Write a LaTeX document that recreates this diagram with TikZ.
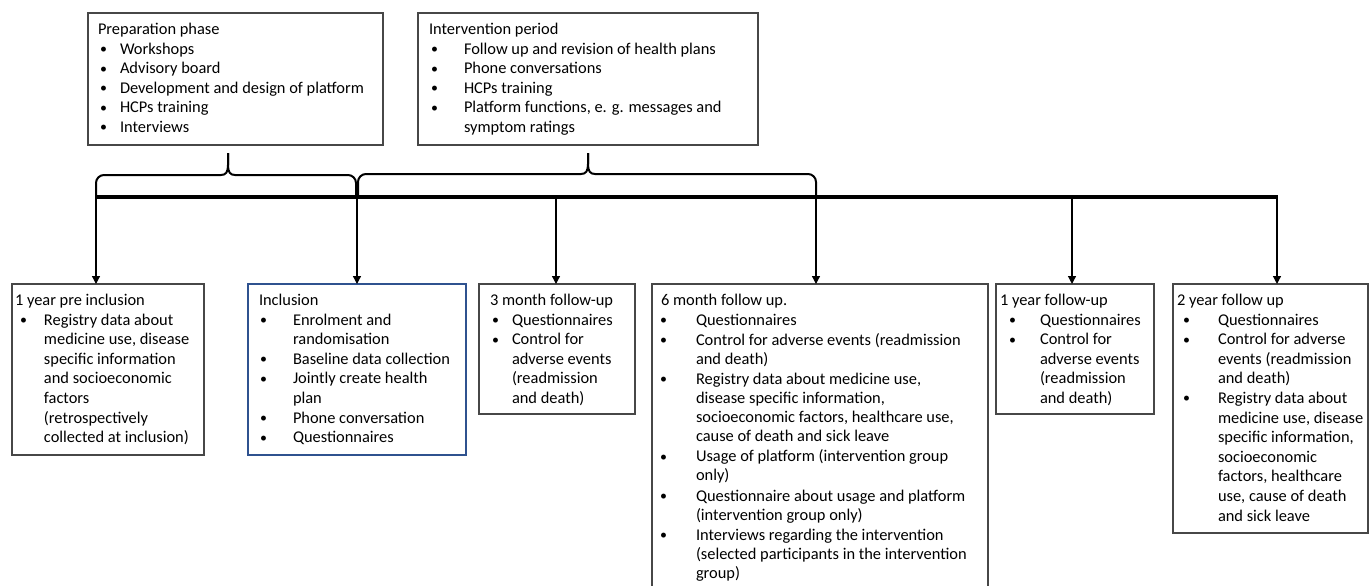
\documentclass[tikz,border=0pt]{standalone}
\usepackage{fontspec}
\usepackage{graphicx}
\setmainfont{Carlito}
\usetikzlibrary{arrows.meta}
\newlength\tp \newlength\bo \newlength\tx \newlength\isep
\newcommand\Ti[1]{\hbox{\hskip\tp #1}}
\newcommand\Bu[1]{\vskip\isep\hbox{\hbox to\tx{\hskip\bo\raisebox{0.6pt}{\scalebox{0.85}{\textbullet}}\hss}#1}}
\newcommand\Co[1]{\hbox{\hskip\tx #1}}
% width, height, title pad, bullet pad, text pad, content
\newcommand\BX[6]{\setlength\tp{#3}\setlength\bo{#4}\setlength\tx{#5}%
  \hbox to #1{\vbox to #2{\lineskiplimit=-100pt\lineskip=0pt\kern1.9pt\hbox{}#6\vfill}\hss}}
\definecolor{inclblue}{RGB}{47,82,143}
\begin{document}
\begin{tikzpicture}[x=1pt,y=-1pt,
  every node/.style={font=\fontsize{16.4}{19.6}\selectfont},
  bx/.style={draw=black!72, line width=1.1pt, inner sep=0pt, outer sep=0pt, anchor=north west},
  brc/.style={line width=2pt},
  arr/.style={line width=1.3pt, -{Triangle[width=8pt,length=8pt]}},
  tline/.style={line width=4pt}]
\useasboundingbox (0,0) rectangle (1371,586);

% top boxes
\node[bx] (prep) at (88,13) {\BX{295pt}{132pt}{10pt}{12pt}{32pt}{%
  \Ti{Preparation phase}
  \Bu{Workshops}
  \Bu{Advisory board}
  \Bu{Development and design of platform}
  \Bu{HCPs training}
  \Bu{Interviews}}};
\node[bx] (interv) at (418,13) {\BX{340pt}{132pt}{11pt}{13pt}{46pt}{%
  \Ti{Intervention period}
  \Bu{Follow up and revision of health plans}
  \Bu{Phone conversations}
  \Bu{HCPs training}
  \Bu{Platform functions, e. g. messages and}
  \Co{symptom ratings}}};

% braces
\draw[brc] (96,195) -- (96,183) to[out=90,in=180] (104,175) -- (221,175)
  .. controls (226,175) and (228,172) .. (228,165) -- (228,153);
\draw[brc] (228,153) -- (228,165) .. controls (228,172) and (230,175) .. (235,175)
  -- (348,175) to[out=0,in=90] (356,183) -- (356,195);
\draw[brc] (358,195) -- (358,182) to[out=90,in=180] (366,174) -- (581,174)
  .. controls (586,174) and (588,171) .. (588,164) -- (588,153);
\draw[brc] (588,153) -- (588,164) .. controls (588,171) and (590,174) .. (595,174)
  -- (808,174) to[out=0,in=90] (816,182) -- (816,195);

% timeline
\coordinate (tS) at (95,197);
\coordinate (tE) at (1278,197);
\draw[tline] (tS) -- (tE);
\coordinate (a1) at (96,197);
\coordinate (a2) at (357,197);
\coordinate (a3) at (556,197);
\coordinate (a4) at (816,197);
\coordinate (a5) at (1072,197);
\coordinate (a6) at (1277,197);

% bottom boxes
\node[bx] (b1) at (12,284) {\BX{192pt}{171pt}{3pt}{8pt}{32pt}{%
  \Ti{1 year pre inclusion}
  \Bu{Registry data about}
  \Co{medicine use, disease}
  \Co{specific information}
  \Co{and socioeconomic}
  \Co{factors}
  \Co{(retrospectively}
  \Co{collected at inclusion)}}};
\node[bx, draw=inclblue] (incl) at (248,284) {\BX{218pt}{171pt}{11pt}{12pt}{45pt}{%
  \Ti{Inclusion}
  \Bu{Enrolment and}
  \Co{randomisation}
  \Bu{Baseline data collection}
  \Bu{Jointly create health}
  \Co{plan}
  \Bu{Phone conversation}
  \Bu{Questionnaires}}};
\node[bx] (b3) at (479,284) {\BX{156pt}{130pt}{11pt}{13pt}{33pt}{%
  \Ti{3 month follow-up}
  \Bu{Questionnaires}
  \Bu{Control for}
  \Co{adverse events}
  \Co{(readmission}
  \Co{and death)}}};
\node[bx, draw=none] (b6) at (652,284) {\BX{336pt}{302pt}{9pt}{8pt}{44pt}{%
  \baselineskip=19.1pt\setlength\isep{1pt}%
  \Ti{6 month follow up.}
  \Bu{Questionnaires}
  \Bu{Control for adverse events (readmission}
  \Co{and death)}
  \Bu{Registry data about medicine use,}
  \Co{disease specific information,}
  \Co{socioeconomic factors, healthcare use,}
  \Co{cause of death and sick leave}
  \Bu{Usage of platform (intervention group}
  \Co{only)}
  \Bu{Questionnaire about usage and platform}
  \Co{(intervention group only)}
  \Bu{Interviews regarding the intervention}
  \Co{(selected participants in the intervention}
  \Co{group)}}};
\draw[draw=black!72, line width=1.1pt] (b6.south west) -- (b6.north west) -- (b6.north east) -- (b6.south east);
\node[bx] (b12) at (996,284) {\BX{158pt}{130pt}{4pt}{13pt}{44pt}{%
  \Ti{1 year follow-up}
  \Bu{Questionnaires}
  \Bu{Control for}
  \Co{adverse events}
  \Co{(readmission}
  \Co{and death)}}};
\node[bx] (b24) at (1173,284) {\BX{195pt}{249pt}{4pt}{10pt}{45pt}{%
  \Ti{2 year follow up}
  \Bu{Questionnaires}
  \Bu{Control for adverse}
  \Co{events (readmission}
  \Co{and death)}
  \Bu{Registry data about}
  \Co{medicine use, disease}
  \Co{specific information,}
  \Co{socioeconomic}
  \Co{factors, healthcare}
  \Co{use, cause of death}
  \Co{and sick leave}}};

% arrows
\draw[arr] (a1) -- (a1 |- b1.north);
\draw[arr] (a2) -- (a2 |- incl.north);
\draw[arr] (a3) -- (a3 |- b3.north);
\draw[arr] (a4) -- (a4 |- b6.north);
\draw[arr] (a5) -- (a5 |- b12.north);
\draw[arr] (a6) -- (a6 |- b24.north);
\end{tikzpicture}
\end{document}
